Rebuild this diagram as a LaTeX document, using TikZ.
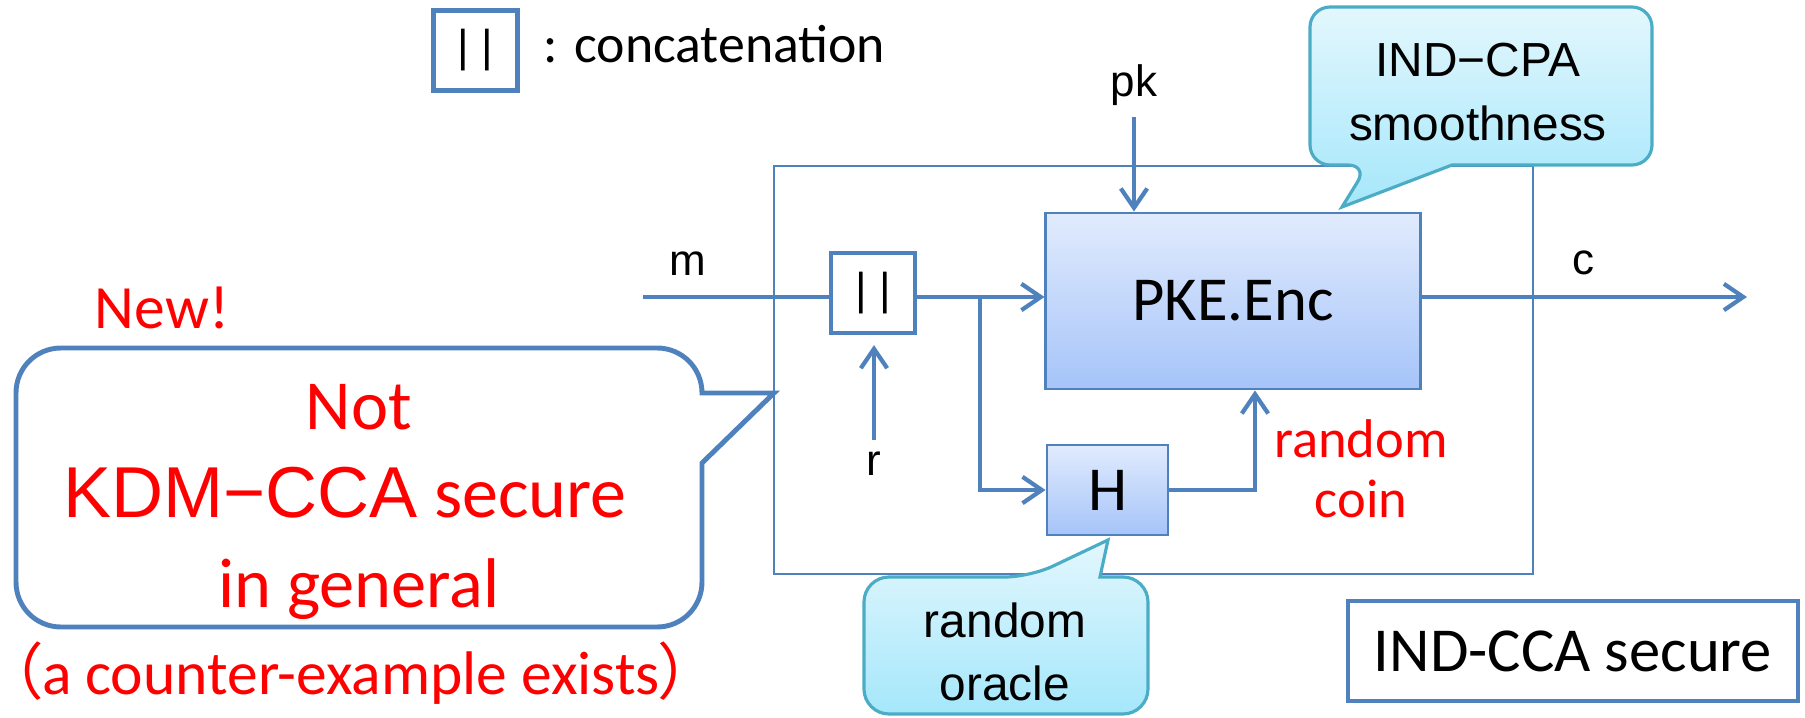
\documentclass[tikz,border=0pt]{standalone}
\usepackage{fontspec}
\setmainfont{Carlito}
\newfontfamily\arialish{Liberation Sans}
\newfontfamily\cjkparen{Noto Sans CJK JP}[RawFeature=+palt]
\usetikzlibrary{arrows.meta}
\definecolor{lineblue}{HTML}{4F81BD}
\definecolor{enctop}{HTML}{E1EBFD}
\definecolor{encbot}{HTML}{A6C4F9}
\definecolor{bubtop}{HTML}{E3F7FD}
\definecolor{bubbot}{HTML}{A5E7FB}
\definecolor{bubline}{HTML}{4BACC6}
\definecolor{alertred}{HTML}{FF0000}
\newcommand\fsz[1]{\fontsize{#1}{#1}\selectfont}
\tikzset{
  wire/.style={draw=lineblue, line width=1.2pt},
  arr/.style={wire, -{Straight Barb[length=5.5pt,width=7.5pt]}},
  catbox/.style={draw=lineblue, line width=1.2pt, fill=white, minimum width=0.84cm, minimum height=0.8cm, inner sep=0, font=\arialish\fsz{12.7}},
  blockbox/.style={draw=lineblue, line width=0.8pt, top color=enctop, bottom color=encbot, inner sep=0, font=\fsz{17.8}},
  bubble/.style={draw=bubline, line width=0.9pt, top color=bubtop, bottom color=bubbot},
  redtxt/.style={text=alertred, inner sep=0, anchor=base},
  lbl/.style={font=\arialish\fsz{12.5}, inner sep=0.11cm, anchor=base},
  bubtxt/.style={font=\arialish\fsz{13.6}, inner sep=0, anchor=base},
}
\begin{document}
\begin{tikzpicture}[x=0.01cm, y=-0.01cm]
\useasboundingbox (0,0) rectangle (1805,718);

\node[catbox] (key) at (475.5,50.5) {| |};
\node[anchor=base west, inner sep=0, font=\fsz{15.3}] (keytxt) at (543,63) {: concatenation};

\node[draw=lineblue, line width=0.6pt, minimum width=7.59cm, minimum height=4.08cm, inner sep=0] (frame) at (1153.5,370) {};

\node[blockbox, minimum width=3.74cm, minimum height=1.76cm] (enc) at (1233,301) {PKE.Enc};
\node[blockbox, minimum width=1.21cm, minimum height=0.9cm] (hash) at (1107.5,490) {H};
\node[catbox] (cat) at (873,293) {| |};

\coordinate (msrc) at (643,297);
\coordinate (split) at (980,297);
\coordinate (cdst) at (1747,297);

\node[lbl] (mlbl) at (688,275) {m};
\node[lbl] (pk) at (1134,96) {pk};
\node[lbl] (r) at (874,475) {r};
\node[lbl] (clbl) at (1583,274) {c};

\draw[wire] (msrc) -- (cat.west |- msrc);
\draw[arr] (cat.east |- split) -- (enc.west |- split);
\draw[arr] (split) |- (hash.west);
\draw[arr] (hash.east) -| ([xshift=0.22cm]enc.south);
\draw[arr] (pk.south) -- (pk.south |- enc.north);
\draw[arr, shorten >=0.1cm] (r.north) -- (r.north |- cat.south);
\draw[arr] (enc.east |- cdst) -- (cdst);

\node[redtxt, font=\fsz{15.5}] (coin1) at (1361,457) {random};
\node[redtxt, font=\fsz{15.5}] (coin2) at (1361,517) {coin};

\path[bubble] (1452,165) [rounded corners=0.2cm] -- (1652,165) -- (1652,7) -- (1310,7) -- (1310,165) -- (1368,165) [sharp corners] -- (1342,207) -- cycle;
\node[bubtxt] (cpa1) at (1478,76) {IND−CPA};
\node[bubtxt] (cpa2) at (1478,140) {smoothness};

\path[bubble] (1100,577) [rounded corners=0.25cm] -- (1148,577) -- (1148,714) -- (864,714) -- (864,577) -- (1030,577) [sharp corners] -- (1108,540) -- cycle;
\node[bubtxt] (ro1) at (1005,637) {random};
\node[bubtxt] (ro2) at (1005,700) {oracle};

\path[draw=lineblue, line width=1.4pt, fill=white] (702,463) -- (702,582) .. controls (702,607) and (682,627) .. (657,627) -- (61,627) .. controls (36,627) and (16,607) .. (16,582) -- (16,393) .. controls (16,368) and (36,348) .. (61,348) -- (657,348) .. controls (682,348) and (702,368) .. (702,393) -- (774,393) -- cycle;
\node[redtxt, font=\fsz{17.5}] (newtag) at (162,328) {New!};
\node[redtxt, font=\fsz{20}] (notline) at (359,429) {Not};
\node[redtxt, font=\fsz{20.5}] (kdmline) at (345,517) {{\arialish KDM−CCA} secure};
\node[redtxt, font=\fsz{20}] (genline) at (359,607) {in general};
\node[redtxt, font=\fsz{17.5}] (cexline) at (351,694) {\kern-0.45em{\cjkparen （}a counter-example exists{\cjkparen ）}\kern-0.45em};

\node[draw=lineblue, line width=1.2pt, minimum width=4.5cm, minimum height=1cm, inner sep=0, font=\fsz{17.8}] (cca) at (1573,651) {IND-CCA secure};
\end{tikzpicture}
\end{document}
